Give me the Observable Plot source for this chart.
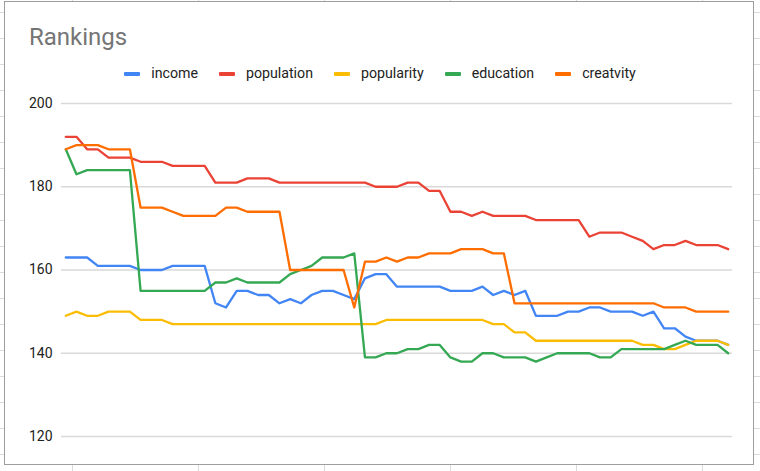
<!DOCTYPE html>
<html>
<head>
<meta charset="utf-8">
<script src="https://cdn.jsdelivr.net/npm/d3@7"></script>
<script src="https://cdn.jsdelivr.net/npm/@observablehq/plot@0.6"></script>
<style>
  html, body { margin: 0; padding: 0; }
  body {
    width: 760px; height: 471px; position: relative; overflow: hidden;
    font-family: Roboto, "Noto Sans", sans-serif;
    background-color: #fff;
    background-image:
      linear-gradient(to right, #dadada 1px, transparent 1px),
      linear-gradient(to bottom, #dadada 1px, transparent 1px);
    background-size: 126px 100%, 100% 26px;
    background-position: 72px 0, 0 12px;
  }
  #box {
    position: absolute; left: 4px; top: 1px; width: 750px; height: 464px;
    border: 1px solid #9e9e9e; background: #fff; box-sizing: border-box;
  }
  #title {
    position: absolute; left: 29px; top: 25px; font-size: 24px; line-height: 24px;
    color: #757575; white-space: nowrap;
  }
  #legend {
    position: absolute; left: 0; top: 66px; width: 760px; display: flex;
    justify-content: center; align-items: center; font-size: 14.2px; line-height: 15px;
    color: #222;
  }
  #legend .item { display: flex; align-items: center; margin: 0 10.5px; }
  #legend .sw { width: 16px; height: 4px; border-radius: 1px; margin-right: 11px; margin-top: 1px; }
  #chart { position: absolute; left: 0; top: 90px; }
</style>
</head>
<body>
<div id="box"></div>
<div id="title">Rankings</div>
<div id="legend"></div>
<div id="chart"></div>
<script>
const seriesNames = ["income", "population", "popularity", "education", "creatvity"];
const seriesColors = ["#4285F4", "#EA4335", "#FBBC04", "#34A853", "#FF6D01"];
const yTicks = [120, 140, 160, 180, 200];

const income = [163,163,163,161,161,161,161,160,160,160,161,161,161,161,152,151,155,155,154,154,152,153,152,154,155,155,154,153,158,159,159,156,156,156,156,156,155,155,155,156,154,155,154,155,149,149,149,150,150,151,151,150,150,150,149,150,146,146,144,143,143,143,142];
const population = [192,192,189,189,187,187,187,186,186,186,185,185,185,185,181,181,181,182,182,182,181,181,181,181,181,181,181,181,181,180,180,180,181,181,179,179,174,174,173,174,173,173,173,173,172,172,172,172,172,168,169,169,169,168,167,165,166,166,167,166,166,166,165];
const popularity = [149,150,149,149,150,150,150,148,148,148,147,147,147,147,147,147,147,147,147,147,147,147,147,147,147,147,147,147,147,147,148,148,148,148,148,148,148,148,148,148,147,147,145,145,143,143,143,143,143,143,143,143,143,143,142,142,141,141,142,143,143,143,142];
const education = [189,183,184,184,184,184,184,155,155,155,155,155,155,155,157,157,158,157,157,157,157,159,160,161,163,163,163,164,139,139,140,140,141,141,142,142,139,138,138,140,140,139,139,139,138,139,140,140,140,140,139,139,141,141,141,141,141,142,143,142,142,142,140];
const creatvity = [189,190,190,190,189,189,189,175,175,175,174,173,173,173,173,175,175,174,174,174,174,160,160,160,160,160,160,151,162,162,163,162,163,163,164,164,164,165,165,165,164,164,152,152,152,152,152,152,152,152,152,152,152,152,152,152,151,151,151,150,150,150,150];

const seriesValues = [income, population, popularity, education, creatvity];
const data = seriesNames.flatMap((name, k) => seriesValues[k].map((v, i) => ({series: name, i, v})));

// legend
const legend = document.getElementById("legend");
seriesNames.forEach((name, k) => {
  const item = document.createElement("div");
  item.className = "item";
  const sw = document.createElement("div");
  sw.className = "sw";
  sw.style.background = seriesColors[k];
  const lab = document.createElement("span");
  lab.textContent = name;
  item.appendChild(sw); item.appendChild(lab);
  legend.appendChild(item);
});

const chart = Plot.plot({
  width: 760,
  height: 375,
  marginLeft: 61,
  marginRight: 28,
  marginTop: 13,
  marginBottom: 29,
  style: {fontFamily: "Roboto, 'Noto Sans', sans-serif", background: "transparent", color: "#222"},
  x: {domain: [-0.4, data.length / seriesNames.length - 0.6], axis: null},
  y: {domain: [120, 200]},
  color: {domain: seriesNames, range: seriesColors},
  marks: [
    Plot.gridY(yTicks, {stroke: "#d9d9d9", strokeOpacity: 1, strokeWidth: 1.5}),
    Plot.axisY(yTicks, {tickSize: 0, tickPadding: 9, label: null, fontSize: 14, fill: "#222"}),
    Plot.line(data, {x: "i", y: "v", z: "series", stroke: "series", strokeWidth: 2.3, strokeLinejoin: "round", strokeLinecap: "round"})
  ]
});
document.getElementById("chart").appendChild(chart);
</script>
</body>
</html>
